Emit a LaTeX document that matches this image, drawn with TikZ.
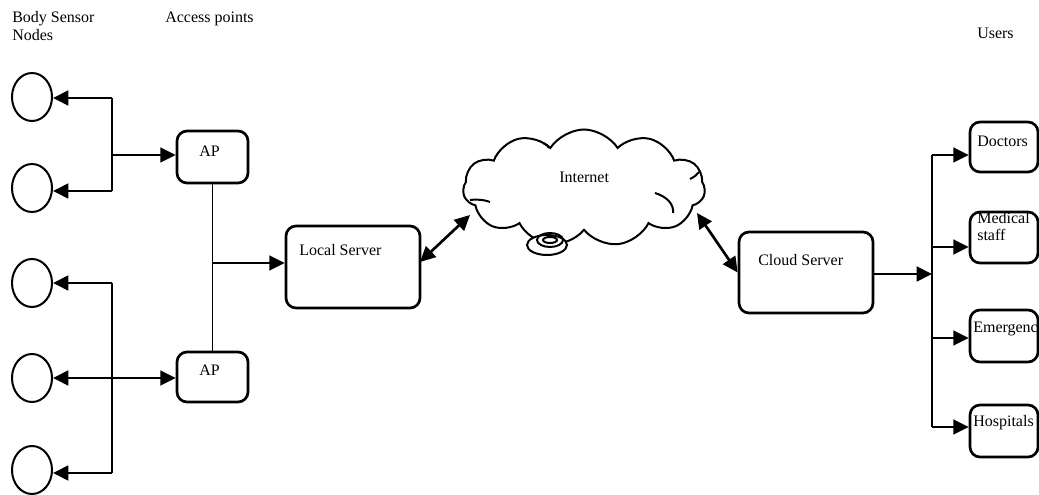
\documentclass[tikz,border=0pt]{standalone}
\usepackage{fontspec}
\setmainfont{Liberation Serif}
\usetikzlibrary{arrows.meta,shapes.geometric,shapes.symbols}

\tikzset{
  tip/.tip={Triangle[length=11.5pt,width=11pt]},
  box/.style={draw, line width=2pt, rounded corners=7.5pt, inner sep=0pt},
  sensor/.style={draw, ellipse, line width=1.5pt, minimum width=30pt, minimum height=36pt, inner sep=0pt},
  link/.style={line width=2pt, -tip},
  duplex/.style={line width=2pt, tip-tip},
  bus/.style={line width=1.2pt},
  wire/.style={line width=0.9pt},
  txt/.style={inner sep=0pt, anchor=base west}
}

\begin{document}
\begin{tikzpicture}[x=0.75pt, y=-0.75pt, font=\fontsize{12}{14}\selectfont]
\useasboundingbox (0,0) rectangle (1039,495);

% column headings
\node[txt] (h-bsn1) at (12,23) {Body Sensor};
\node[txt] (h-bsn2) at (12,41) {Nodes};
\node[txt] (h-ap) at (165,23) {Access points};
\node[txt] (h-users) at (977,39) {Users};

% body sensor nodes
\node[sensor] (s1) at (32,97) {};
\node[sensor] (s2) at (32,188) {};
\node[sensor] (s3) at (32,283) {};
\node[sensor] (s4) at (32,378) {};
\node[sensor] (s5) at (32,470) {};

% access points
\node[box, minimum width=53.25pt, minimum height=39pt] (ap1) at (212.5,157) {};
\node[txt] (ap1-t) at (199,157) {AP};
\node[box, minimum width=53.25pt, minimum height=37.5pt] (ap2) at (212.5,377) {};
\node[txt] (ap2-t) at (199,375) {AP};

% servers
\node[box, minimum width=100.5pt, minimum height=61.5pt] (local) at (353,267) {};
\node[txt] (local-t) at (299,256) {Local Server};
\node[box, minimum width=100.5pt, minimum height=60.75pt] (csrv) at (806,272.5) {};
\node[txt] (csrv-t) at (758,266) {Cloud Server};

% internet cloud with its inner fold strokes and the small tail bubble
\node[cloud, draw, line width=1.5pt, cloud puffs=11, cloud puff arc=115, aspect=2.07,
      minimum width=181.5pt, minimum height=87.75pt, inner sep=0pt] (net) at (584,188) {};
\node[txt] (net-t) at (559,183) {Internet};
\draw[line width=1.5pt] (470,200) .. controls (478,199) and (485,200) .. (490,202);
\draw[line width=1.5pt] (655,193) .. controls (668,197) and (674,205) .. (673,213);
\draw[line width=1.5pt] (690,179) .. controls (694,177) and (697,175) .. (699,172);
\draw[line width=1.5pt] (543,143) .. controls (546,144) and (548,146) .. (549,148);
\draw[line width=1.5pt, fill=white] (547,245) ellipse [x radius=20, y radius=10];
\draw[line width=1.5pt] (550,240) ellipse [x radius=13, y radius=7];
\draw[line width=1.5pt] (550,240) ellipse [x radius=7, y radius=3];
\coordinate (net-w) at (470,215);
\coordinate (net-e) at (697,213);

% users
\node[box, minimum width=51pt, minimum height=37.5pt] (doc) at (1004,147) {};
\node[txt] (doc-t) at (977,147) {Doctors};
\node[box, minimum width=51pt, minimum height=38.25pt] (med) at (1004,237.5) {};
\node[txt] (med-t1) at (977,224) {Medical};
\node[txt] (med-t2) at (977,241) {staff};
\node[box, minimum width=51pt, minimum height=39pt] (emg) at (1004,336) {};
\node[txt] (emg-t) at (973,333) {Emergency};
\node[box, minimum width=51pt, minimum height=39pt] (hos) at (1004,431) {};
\node[txt] (hos-t) at (973,426) {Hospitals};

% sensor group 1 to the first access point
\coordinate (ba1) at (112,98);
\coordinate (ba2) at (112,191);
\coordinate (ba3) at (112,155);
\draw[bus] (ba1) -- (ba2);
\draw[link] (ba1) -- (ba1 -| s1.east);
\draw[link] (ba2) -- (ba2 -| s2.east);
\draw[link] (ba3) -- (ba3 -| ap1.west);

% sensor group 2 to the second access point
\coordinate (bb1) at (112,283);
\coordinate (bb2) at (112,473);
\draw[bus] (bb1) -- (bb2);
\draw[link] (bb1) -- (bb1 -| s3.east);
\draw[link] (bb2) -- (bb2 -| s5.east);
\draw[duplex] (s4.east) -- (s4.east -| ap2.west);

% access points to the local server
\draw[wire] (ap1.south) -- (ap2.north);
\coordinate (j) at (212.5,263);
\draw[link] (j) -- (j -| local.west);

% servers and the internet
\draw[duplex] (420,262) -- (net-w);
\draw[duplex] (net-e) -- (csrv.west);

% cloud server to the users
\coordinate (ub) at (932,274);
\coordinate (ut) at (932,155);
\coordinate (ud) at (932,427);
\draw[link] (csrv.east |- ub) -- (ub);
\draw[bus] (ut) -- (ud);
\draw[link] (ut) -- (ut -| doc.west);
\draw[link] (932,247) -- (med.west |- 932,247);
\draw[link] (932,338) -- (emg.west |- 932,338);
\draw[link] (ud) -- (ud -| hos.west);
\end{tikzpicture}
\end{document}
